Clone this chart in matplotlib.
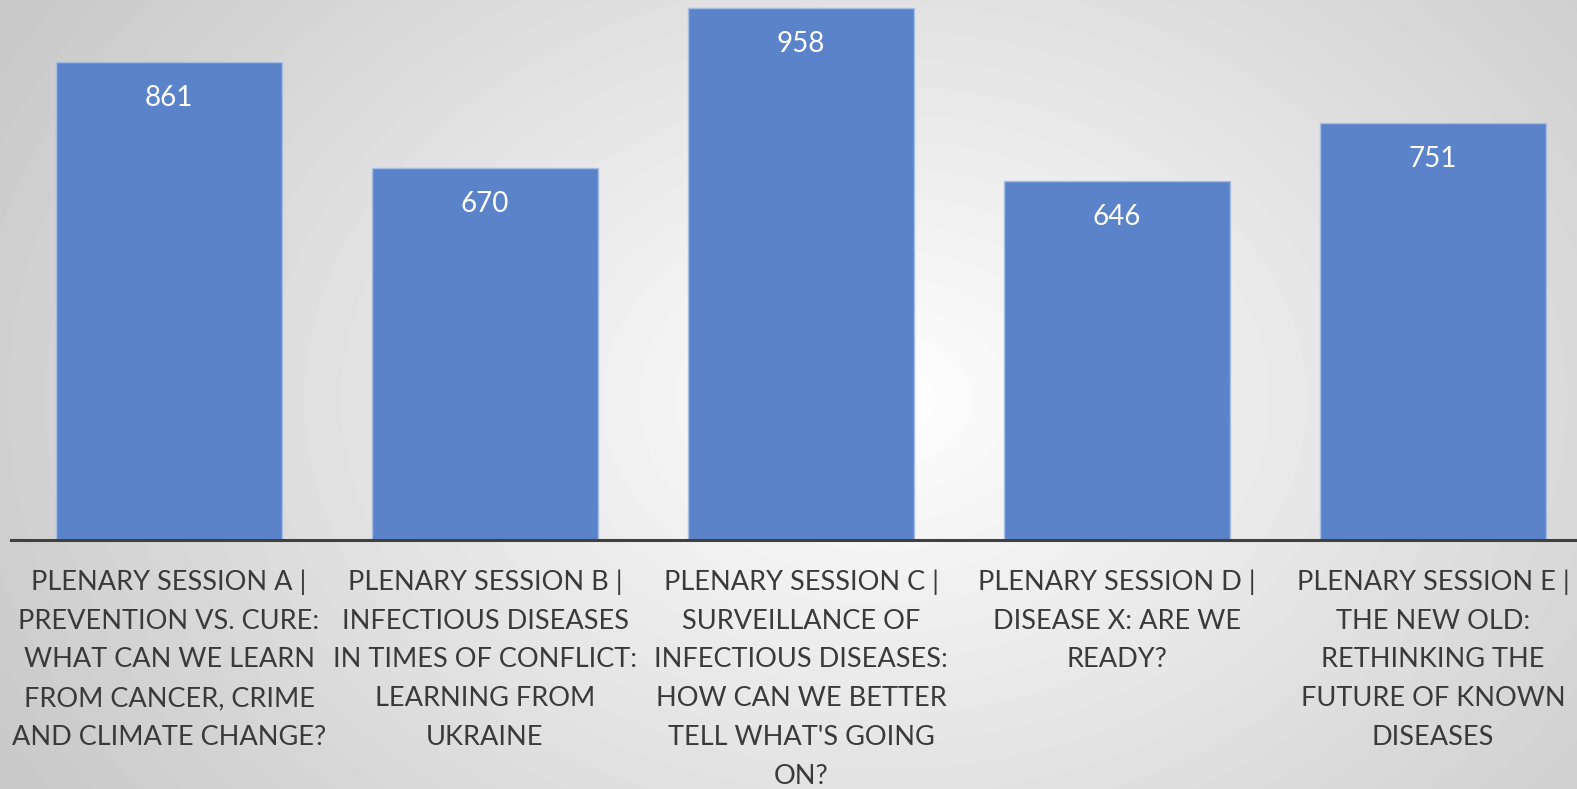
import numpy as np
import matplotlib.pyplot as plt

sessions = [
    "PLENARY SESSION A |\nPREVENTION VS. CURE:\nWHAT CAN WE LEARN\nFROM CANCER, CRIME\nAND CLIMATE CHANGE?",
    "PLENARY SESSION B |\nINFECTIOUS DISEASES\nIN TIMES OF CONFLICT:\nLEARNING FROM\nUKRAINE",
    "PLENARY SESSION C |\nSURVEILLANCE OF\nINFECTIOUS DISEASES:\nHOW CAN WE BETTER\nTELL WHAT'S GOING\nON?",
    "PLENARY SESSION D |\nDISEASE X: ARE WE\nREADY?",
    "PLENARY SESSION E |\nTHE NEW OLD:\nRETHINKING THE\nFUTURE OF KNOWN\nDISEASES",
]
attendees = [861, 670, 958, 646, 751]

plt.rcParams['font.family'] = ['Lato', 'DejaVu Sans']

W, H = 1577, 789
fig = plt.figure(figsize=(W / 100, H / 100), dpi=100)

# radial grey background
bg = fig.add_axes([0, 0, 1, 1])
yy, xx = np.mgrid[0:H, 0:W]
r = np.sqrt(((xx - 880) / 950.0) ** 2 + ((yy - 400) / 700.0) ** 2)
shade = 1.0 - 0.2 * np.clip(r, 0, 1.05)
bg.imshow(shade, cmap='gray', vmin=0, vmax=1, aspect='auto', extent=[0, 1, 0, 1])
bg.axis('off')

ax = fig.add_axes([11 / W, (H - 540) / H, (W - 11) / W, 540 / H])
ax.patch.set_alpha(0)
x = np.arange(len(sessions))
bars = ax.bar(x, attendees, width=0.715, color='#5B83CA', edgecolor='#A8BDE2', linewidth=1.0, zorder=2)
ax.set_xlim(-0.5, -0.5 + (W - 11) / 316.0)
ax.set_ylim(0, 973)

for b, v in zip(bars, attendees):
    ax.annotate(str(v), (b.get_x() + b.get_width() / 2, v), xytext=(0, -25.5),
                textcoords='offset points', ha='center', va='center',
                color='white', fontsize=20)

for s in ['top', 'right', 'left']:
    ax.spines[s].set_visible(False)
ax.spines['bottom'].set_color('#404040')
ax.spines['bottom'].set_linewidth(2.2)
ax.set_yticks([])
ax.set_xticks(x)
ax.set_xticklabels(sessions, fontsize=19.5, color='#3A3A3A', linespacing=1.695, va='top')
ax.tick_params(axis='x', length=0, pad=21)

fig.savefig('out.png', dpi=100)
